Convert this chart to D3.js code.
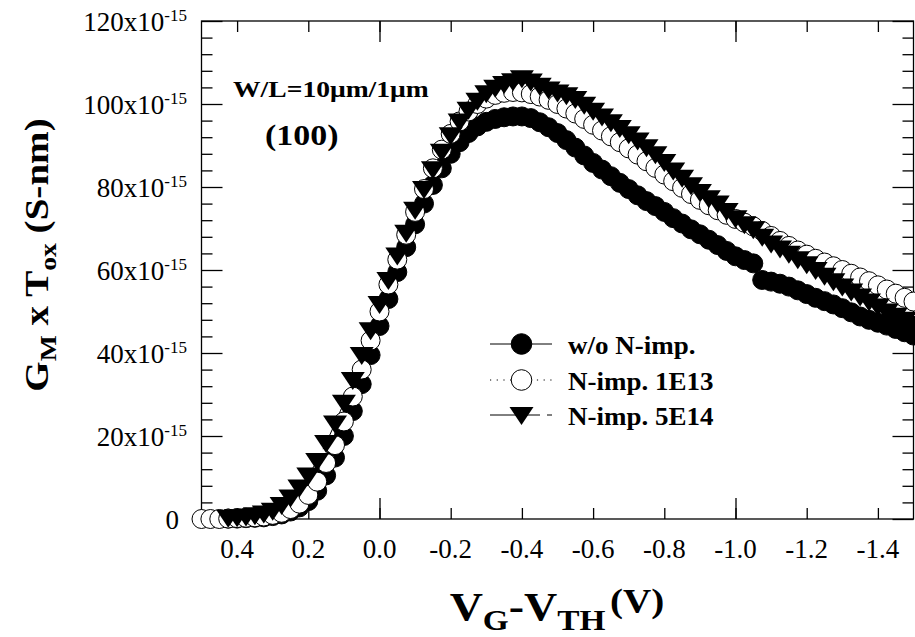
<!DOCTYPE html>
<html>
<head>
<meta charset="utf-8">
<script src="https://cdn.jsdelivr.net/npm/d3@7"></script>
<style>
  body { margin: 0; background: #fff; }
  svg text { font-family: "Liberation Serif", "Times New Roman", serif; fill: #000; }
</style>
</head>
<body>
<svg id="svgID" width="915" height="637"></svg>
<script>
// V_G - V_TH (V), 25 mV steps
var vgLong = [0.5, 0.475, 0.45, 0.425, 0.4, 0.375, 0.35, 0.325, 0.3, 0.275, 0.25, 0.225, 0.2, 0.175, 0.15, 0.125,
    0.1, 0.075, 0.05, 0.025, 0, -0.025, -0.05, -0.075, -0.1, -0.125, -0.15, -0.175, -0.2, -0.225, -0.25, -0.275,
    -0.3, -0.325, -0.35, -0.375, -0.4, -0.425, -0.45, -0.475, -0.5, -0.525, -0.55, -0.575, -0.6, -0.625, -0.65,
    -0.675, -0.7, -0.725, -0.75, -0.775, -0.8, -0.825, -0.85, -0.875, -0.9, -0.925, -0.95, -0.975, -1.0, -1.025,
    -1.05, -1.075, -1.1, -1.125, -1.15, -1.175, -1.2, -1.225, -1.25, -1.275, -1.3, -1.325, -1.35, -1.375, -1.4,
    -1.425, -1.45, -1.475, -1.5];
var vgShort = vgLong.slice(3); // starts at 0.425

// G_M x T_ox in units of 1e-15 S-nm
var gmNoImp = [0.1, 0.1, 0.2, 0.3, 0.4, 0.7, 1.1, 1.8, 2.8, 4.3, 6.8, 10.5, 14.8, 20.0, 26.0, 32.5, 39.5, 46.5,
    53.0, 59.5, 65.5, 71.0, 76.0, 80.5, 84.5, 88.0, 90.8, 93.0, 94.6, 95.7, 96.4, 96.8, 97.0, 97.0, 96.6, 95.6,
    94.4, 93.0, 91.3, 89.5, 87.6, 85.8, 84.2, 82.6, 81.0, 79.5, 78.0, 76.6, 75.4, 74.0, 72.5, 71.2, 69.8, 68.6,
    67.3, 66.0, 64.6, 63.3, 62.4, 61.6, 57.6, 57.2, 56.7, 56.0, 55.1, 54.2, 53.3, 52.5, 51.7, 50.8, 49.8, 48.8,
    48.0, 47.3, 46.6, 45.8, 45.0, 44.2];
var gm1E13 = [0, 0, 0, 0.1, 0.2, 0.3, 0.4, 0.6, 1.0, 1.5, 2.4, 3.7, 5.8, 9.0, 13.5, 17.8, 23.5, 29.5, 36.0, 43.0,
    50.0, 56.5, 62.5, 68.5, 74.0, 79.5, 84.5, 89.0, 92.8, 95.8, 98.2, 100.0, 101.3, 102.2, 102.7, 102.9, 102.8,
    102.4, 101.8, 101.0, 100.0, 98.9, 97.7, 96.4, 95.0, 93.6, 92.2, 90.8, 89.3, 87.8, 86.2, 84.6, 83.0, 81.4,
    79.8, 78.3, 76.9, 75.6, 74.4, 73.3, 72.3, 71.4, 70.5, 69.4, 68.2, 67.0, 65.8, 64.7, 63.7, 62.7, 61.8, 60.9,
    60.0, 59.1, 58.2, 57.3, 56.3, 55.3, 54.3, 53.3, 52.4];
var gm5E14 = [0.3, 0.4, 0.6, 0.9, 1.3, 2.0, 3.4, 5.2, 7.6, 10.5, 14.0, 18.3, 23.0, 28.0, 33.5, 39.5, 45.5, 51.8,
    57.6, 63.5, 69.0, 74.5, 79.5, 84.3, 88.5, 92.5, 95.8, 98.6, 100.8, 102.6, 103.9, 104.8, 105.5, 106.2, 105.4,
    104.4, 103.5, 102.8, 102.1, 101.2, 99.8, 98.4, 97.0, 95.6, 94.2, 92.7, 91.2, 89.6, 87.9, 86.0, 84.0, 82.2,
    80.4, 78.8, 77.3, 76.0, 74.2, 72.5, 71.0, 69.8, 68.0, 66.4, 65.2, 63.9, 62.6, 61.4, 60.0, 58.6, 57.3, 56.0,
    54.8, 53.6, 52.4, 51.2, 50.0, 49.0, 48.0, 47.0];

var seriesNames = ["w/o N-imp.", "N-imp. 1E13", "N-imp. 5E14"];
var xTicks = [0.4, 0.2, 0.0, -0.2, -0.4, -0.6, -0.8, -1.0, -1.2, -1.4];
var xMajor = [0.0, -1.0];
var yMajor = [0, 20, 40, 60, 80, 100, 120];
var yMinor = [4, 8, 12, 16, 24, 28, 32, 36, 44, 48, 52, 56, 64, 68, 72, 76, 84, 88, 92, 96, 104, 108, 112, 116];

var svg = d3.select("#svgID"),
    pL = 201.5, pR = 913.5, pT = 21, pB = 519;

var x = d3.scaleLinear().domain([0.5, -1.5]).range([pL, pR]);
var y = d3.scaleLinear().domain([0, 120]).range([pB, pT]);

var pairs = function(xs, ys) { return xs.map(function(v, i) { return [v, ys[i]]; }); };
var series = [
    { name: seriesNames[0], data: pairs(vgShort, gmNoImp), sym: "filled", dash: null },
    { name: seriesNames[1], data: pairs(vgLong, gm1E13), sym: "open", dash: "1.2,5.5" },
    { name: seriesNames[2], data: pairs(vgShort, gm5E14), sym: "tri", dash: "50,7,5,7" }
];

var triPath = "M-12,-8L12,-8L0,10Z";

function drawMarker(sel, sym, r) {
    if (sym === "tri") {
        sel.append("path").attr("d", triPath).attr("fill", "#000");
    } else {
        sel.append("circle").attr("r", r)
            .attr("fill", sym === "filled" ? "#000" : "#fff")
            .attr("stroke", "#000").attr("stroke-width", 1);
    }
}

// frame
svg.append("rect").attr("x", pL).attr("y", pT)
    .attr("width", pR - pL).attr("height", pB - pT)
    .attr("fill", "none").attr("stroke", "#000").attr("stroke-width", 1.3);

// ticks (inward, all four sides)
function ticks(axis, vals, size, pos) {
    svg.append("g").attr("transform", pos)
        .call(axis.tickValues(vals).tickSize(-size).tickFormat(""))
        .call(function(g) { g.select(".domain").remove(); g.selectAll("line").attr("stroke", "#000").attr("stroke-width", 1.3); });
}
ticks(d3.axisBottom(x), xTicks, 11, "translate(0," + pB + ")");
ticks(d3.axisBottom(x), xMajor, 21, "translate(0," + pB + ")");
ticks(d3.axisTop(x), xTicks, 11, "translate(0," + pT + ")");
ticks(d3.axisTop(x), xMajor, 21, "translate(0," + pT + ")");
ticks(d3.axisLeft(y), yMinor, 11, "translate(" + pL + ",0)");
ticks(d3.axisLeft(y), yMajor, 21, "translate(" + pL + ",0)");
ticks(d3.axisRight(y), yMinor, 11, "translate(" + pR + ",0)");
ticks(d3.axisRight(y), yMajor, 21, "translate(" + pR + ",0)");

// tick labels
svg.append("g").selectAll("text").data(xTicks).enter().append("text")
    .attr("x", function(d) { return x(d); }).attr("y", 558)
    .attr("text-anchor", "middle").attr("font-size", 27)
    .text(function(d) { return d3.format(".1f")(d).replace("\u2212", "-"); });

var yl = svg.append("g").selectAll("text").data(yMajor).enter().append("text")
    .attr("x", function(d) { return d === 0 ? 179 : 187; })
    .attr("y", function(d) { return y(d) + 9.5; })
    .attr("text-anchor", "end").attr("font-size", 27);
yl.append("tspan").text(function(d) { return d === 0 ? "0" : d + "x10"; });
yl.filter(function(d) { return d !== 0; }).append("tspan")
    .attr("font-size", 17).attr("dy", -10).text("-15");

// curves: lines then markers
var line = d3.line().x(function(d) { return x(d[0]); }).y(function(d) { return y(d[1]); });
series.forEach(function(s) {
    svg.append("path").datum(s.data).attr("d", line)
        .attr("fill", "none").attr("stroke", "#000").attr("stroke-width", 1)
        .attr("stroke-dasharray", s.dash);
});
series.forEach(function(s) {
    var g = svg.append("g").selectAll("g").data(s.data).enter().append("g")
        .attr("transform", function(d) { return "translate(" + x(d[0]) + "," + y(d[1]) + ")"; });
    drawMarker(g, s.sym, 9.5);
});

// legend
var legY = [344, 380, 415];
series.forEach(function(s, i) {
    var lg = svg.append("g").attr("transform", "translate(0," + legY[i] + ")");
    lg.append("line").attr("x1", 490).attr("x2", 552).attr("y1", 0).attr("y2", 0)
        .attr("stroke", "#000").attr("stroke-width", 1).attr("stroke-dasharray", s.dash);
    var m = lg.append("g").attr("transform", "translate(521.5,0)");
    drawMarker(m, s.sym, 10.3);
    lg.append("text").attr("transform", "translate(568,10) scale(1.08,1)")
        .attr("font-size", 25).attr("font-weight", "bold").text(s.name);
});

// annotations
svg.append("text").attr("transform", "translate(233,97) scale(1.15,1)")
    .attr("font-size", 24).attr("font-weight", "bold").text("W/L=10\u03bcm/1\u03bcm");
svg.append("text").attr("transform", "translate(265,145) scale(1.17,1)")
    .attr("font-size", 29).attr("font-weight", "bold").text("(100)");

// x title
var xt = svg.append("text").attr("transform", "translate(557,620) scale(1.15,1)")
    .attr("text-anchor", "middle").attr("font-weight", "bold").attr("font-size", 40);
xt.append("tspan").text("V");
xt.append("tspan").attr("font-size", 29).attr("dy", 10).text("G");
xt.append("tspan").attr("dy", -10).text("-V");
xt.append("tspan").attr("font-size", 29).attr("dy", 10).text("TH");
xt.append("tspan").attr("font-size", 34).attr("dy", -18).attr("dx", 4).text("(V)");

// y title
var ytl = svg.append("text").attr("transform", "translate(48,255) rotate(-90) scale(1.15,1)")
    .attr("text-anchor", "middle").attr("font-weight", "bold").attr("font-size", 34);
ytl.append("tspan").text("G");
ytl.append("tspan").attr("font-size", 24).attr("dy", 8).text("M");
ytl.append("tspan").attr("dy", -8).text(" x T");
ytl.append("tspan").attr("font-size", 24).attr("dy", 8).text("ox");
ytl.append("tspan").attr("dy", -8).text(" (S-nm)");
</script>
</body>
</html>
